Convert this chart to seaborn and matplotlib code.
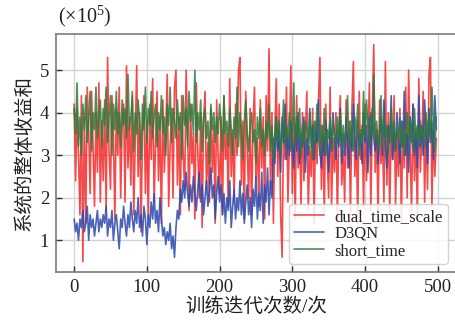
import numpy as np
import pandas as pd
import matplotlib
matplotlib.use("Agg")
import matplotlib.pyplot as plt
import seaborn as sns

# x positions: every second training iteration
iterations = list(range(0, 500, 2))

dual_time_scale = [
    4.2, 2.4, 4.1, 3.0, 1.6, 4.4, 0.5, 3.9, 1.4, 4.6,
    3.6, 2.1, 4.5, 3.2, 1.8, 4.0, 2.6, 4.7, 1.9, 3.8,
    2.4, 4.3, 1.7, 5.3, 3.1, 2.2, 4.4, 3.5, 1.5, 4.1,
    3.0, 4.6, 2.0, 3.7, 4.2, 1.9, 5.1, 2.7, 3.9, 2.3,
    4.5, 1.6, 3.4, 5.1, 2.5, 4.0, 1.2, 3.6, 4.4, 2.1,
    3.8, 1.5, 4.2, 2.9, 4.8, 1.9, 3.3, 4.5, 2.4, 3.9,
    1.4, 4.3, 2.6, 3.5, 4.9, 1.8, 3.2, 4.1, 2.0, 4.6,
    5.0, 2.3, 3.9, 1.6, 4.4, 3.0, 2.2, 5.0, 3.6, 1.7,
    4.2, 2.8, 3.5, 1.5, 4.7, 3.1, 2.0, 4.0, 1.3, 3.8,
    4.5, 2.2, 3.3, 1.9, 4.1, 2.6, 3.7, 1.4, 4.3, 3.0,
    2.1, 3.9, 1.6, 4.4, 2.9, 3.5, 1.8, 4.8, 2.5, 3.6,
    1.9, 4.2, 3.0, 5.0, 5.3, 2.3, 3.8, 1.5, 4.5, 3.2,
    2.0, 4.1, 1.6, 3.7, 4.6, 2.4, 3.4, 1.8, 4.3, 2.7,
    3.9, 1.5, 4.4, 3.1, 5.5, 2.2, 4.0, 1.4, 3.6, 4.8,
    2.5, 4.2, 1.6, 0.6, 3.8, 2.9, 4.6, 1.9, 3.3, 5.1,
    2.1, 3.9, 1.5, 4.4, 2.7, 3.6, 1.8, 4.0, 2.4, 3.5,
    4.5, 1.7, 3.2, 2.5, 4.1, 1.4, 3.8, 2.8, 4.3, 5.3,
    2.2, 3.7, 1.6, 4.2, 3.0, 2.0, 4.6, 1.8, 3.4, 2.6,
    4.0, 1.5, 3.6, 4.4, 2.3, 3.1, 1.9, 4.3, 2.7, 3.8,
    1.6, 4.1, 5.2, 2.5, 3.5, 1.4, 4.5, 2.9, 3.7, 1.8,
    4.2, 2.4, 3.3, 4.7, 1.7, 3.9, 5.6, 2.6, 3.6, 1.5,
    4.3, 2.8, 3.4, 1.9, 5.2, 2.3, 4.0, 1.6, 3.7, 2.9,
    4.4, 1.8, 3.5, 2.5, 4.1, 1.4, 3.8, 2.7, 4.6, 2.0,
    5.0, 3.1, 1.7, 4.2, 2.4, 3.6, 1.5, 4.8, 2.6, 3.3,
    4.5, 1.9, 3.8, 2.2, 4.9, 5.3, 1.8, 3.6, 2.5, 3.4,
]

d3qn = [
    1.5, 1.2, 1.4, 1.0, 1.5, 1.3, 1.7, 1.2, 1.4, 1.8,
    1.0, 1.6, 1.3, 1.5, 1.1, 1.4, 1.7, 1.2, 1.5, 1.3,
    1.6, 1.4, 1.8, 1.1, 1.5, 1.3, 1.7, 1.0, 1.4, 1.6,
    1.2, 0.8, 1.5, 1.3, 1.8, 1.4, 1.1, 1.6, 1.3, 1.9,
    1.5, 1.2, 1.7, 1.4, 2.0, 1.3, 1.6, 1.1, 1.8, 1.5,
    0.9, 1.6, 1.3, 1.9, 1.5, 2.1, 1.4, 1.7, 1.2, 2.0,
    1.5, 1.1, 1.3, 0.9, 1.2, 1.0, 1.4, 0.8, 1.1, 0.6,
    1.3, 1.7, 1.5, 2.2, 1.9, 2.4, 2.0, 2.6, 2.1, 1.8,
    2.3, 1.9, 2.5, 2.1, 1.7, 2.2, 2.6, 1.9, 2.3, 1.6,
    2.0, 2.4, 1.8, 2.2, 2.7, 2.0, 2.3, 1.5, 2.1, 2.5,
    1.9, 2.3, 1.6, 2.1, 1.4, 2.0, 1.7, 2.4, 1.3, 1.8,
    2.2, 1.5, 2.0, 1.7, 2.4, 1.6, 2.1, 1.4, 1.9, 2.3,
    1.6, 2.0, 1.3, 2.2, 1.8, 2.5, 1.5, 2.1, 1.7, 2.6,
    1.4, 2.3, 1.9, 2.7, 1.6, 2.4, 2.0, 3.4, 2.8, 3.9,
    3.1, 3.6, 2.6, 3.9, 3.3, 4.2, 2.9, 3.5, 3.0, 3.8,
    3.3, 2.7, 3.7, 3.1, 4.0, 2.8, 3.5, 3.2, 3.9, 2.6,
    3.4, 3.0, 4.1, 3.2, 3.7, 2.9, 3.6, 3.3, 4.3, 3.1,
    2.7, 3.5, 3.0, 3.8, 3.3, 2.6, 3.7, 3.1, 4.0, 3.4,
    2.9, 3.6, 3.2, 4.1, 2.8, 3.5, 3.0, 3.9, 3.3, 2.7,
    3.6, 3.1, 4.2, 3.4, 2.9, 3.8, 3.2, 3.5, 2.8, 4.0,
    3.3, 3.7, 2.6, 3.9, 3.0, 4.1, 3.4, 3.1, 3.6, 2.8,
    3.5, 3.9, 3.0, 4.3, 3.2, 2.7, 3.7, 3.3, 4.4, 2.9,
    3.6, 3.1, 4.0, 3.4, 2.8, 3.8, 3.2, 4.5, 3.0, 3.5,
    2.6, 3.9, 3.3, 4.2, 3.0, 3.6, 2.7, 4.4, 3.2, 3.7,
    3.0, 4.3, 3.5, 2.8, 4.1, 3.3, 3.8, 2.9, 4.4, 3.6,
]

short_time = [
    4.1, 3.5, 4.7, 3.2, 3.9, 3.0, 4.2, 3.6, 4.4, 3.3,
    3.8, 4.5, 3.1, 4.0, 3.6, 4.6, 3.4, 3.9, 4.3, 3.2,
    4.1, 3.7, 4.6, 3.3, 3.9, 4.4, 3.0, 4.2, 3.6, 4.5,
    3.5, 4.0, 3.2, 4.3, 3.7, 4.1, 3.4, 4.9, 3.6, 3.9,
    4.4, 3.1, 4.0, 3.5, 4.3, 3.8, 2.9, 4.2, 3.6, 4.6,
    3.3, 4.1, 3.7, 4.5, 3.4, 3.9, 4.2, 3.2, 4.0, 3.6,
    4.4, 3.5, 3.9, 3.0, 4.2, 3.7, 4.6, 3.3, 4.1, 3.8,
    3.4, 4.3, 3.6, 4.0, 2.9, 4.4, 3.7, 4.1, 3.2, 4.5,
    3.8, 4.2, 3.5, 5.0, 3.3, 4.0, 3.6, 4.3, 3.1, 3.9,
    4.1, 3.4, 3.8, 2.8, 4.2, 3.6, 4.0, 3.3, 3.9, 3.5,
    4.2, 3.7, 3.1, 4.4, 3.5, 3.8, 3.2, 4.1, 3.6, 3.0,
    3.9, 3.4, 4.6, 3.2, 4.0, 3.6, 2.9, 3.8, 4.3, 3.5,
    3.1, 3.7, 4.0, 3.3, 3.6, 2.8, 3.9, 3.4, 4.1, 3.2,
    3.6, 3.0, 3.8, 3.4, 4.2, 3.1, 3.7, 2.9, 3.5, 3.9,
    3.3, 3.8, 3.0, 3.6, 4.3, 3.2, 3.7, 3.4, 4.0, 3.1,
    3.5, 4.7, 3.2, 3.9, 3.4, 4.1, 3.0, 3.7, 3.3, 3.8,
    3.6, 3.1, 4.0, 3.5, 2.9, 3.8, 3.3, 4.2, 3.5, 3.0,
    3.7, 3.3, 4.1, 3.0, 3.6, 3.4, 3.9, 3.1, 3.8, 3.5,
    3.2, 3.9, 3.4, 4.0, 3.1, 3.7, 3.3, 3.6, 4.4, 3.2,
    3.8, 3.4, 3.1, 3.9, 3.5, 4.2, 3.0, 3.6, 3.3, 4.5,
    3.4, 4.3, 3.7, 3.2, 4.0, 3.5, 4.9, 3.3, 3.8, 3.1,
    3.6, 4.4, 3.2, 3.9, 3.4, 3.7, 3.0, 3.5, 4.1, 3.3,
    3.8, 3.1, 3.6, 3.4, 3.9, 3.2, 3.7, 3.0, 3.5, 4.0,
    3.3, 3.9, 3.5, 3.1, 4.1, 3.4, 3.7, 3.2, 3.8, 3.4,
    3.6, 3.2, 4.0, 3.5, 3.9, 3.3, 4.6, 3.7, 3.1, 3.9,
]

series_names = ["dual_time_scale", "D3QN", "short_time"]
colors = ["#f42a2a", "#2a48ad", "#2b7d3b"]

sns.set_theme(style="whitegrid")
serif = ["Liberation Serif", "DejaVu Serif"]
cjk = ["Liberation Serif", "Noto Sans CJK SC"]
plt.rcParams["font.family"] = serif
plt.rcParams["mathtext.fontset"] = "custom"
plt.rcParams["mathtext.rm"] = "Liberation Serif"

df = pd.DataFrame({
    "iter": iterations * 3,
    "reward": dual_time_scale + d3qn + short_time,
    "who": [series_names[0]] * len(iterations)
           + [series_names[1]] * len(iterations)
           + [series_names[2]] * len(iterations),
})

fig = plt.figure(figsize=(4.55, 3.24), dpi=100)
ax = fig.add_axes([0.123, 0.160, 0.879, 0.735])

sns.lineplot(data=df, x="iter", y="reward", hue="who", hue_order=series_names,
             palette=colors, lw=1.2, alpha=0.85, ax=ax)

ax.set_xlim(-25, 525)
ax.set_ylim(0.25, 5.85)
ax.set_xticks([0, 100, 200, 300, 400, 500])
ax.set_yticks([1, 2, 3, 4, 5])
ax.grid(True, color="#d4d4d4", lw=1.0)
for side in ["left", "bottom", "top"]:
    ax.spines[side].set_color("#7a7a7a")
    ax.spines[side].set_linewidth(1.2)
ax.spines["right"].set_visible(False)
ax.tick_params(axis="both", direction="in", length=4, width=1, colors="#333333",
               labelsize=13.5, labelcolor="#222222", pad=5, bottom=True, left=True)

ax.set_xlabel("训练迭代次数/次", family=cjk, fontsize=14, color="#222222", labelpad=1)
ax.set_ylabel("系统的整体收益和", family=cjk, fontsize=14, color="#222222", labelpad=4)
fig.text(0.128, 0.952, r"(×10$^{5}$)", family=serif, fontsize=14.5, color="#222222",
         ha="left", va="center")

leg = ax.legend(loc="lower right", bbox_to_anchor=(1.0, 0.0), fontsize=12,
                handlelength=1.8, labelspacing=0.05, borderpad=0.3,
                handletextpad=0.6, frameon=True, fancybox=True)
leg.get_frame().set_edgecolor("#cccccc")
leg.get_frame().set_alpha(0.85)

fig.savefig("out.png", dpi=100)
